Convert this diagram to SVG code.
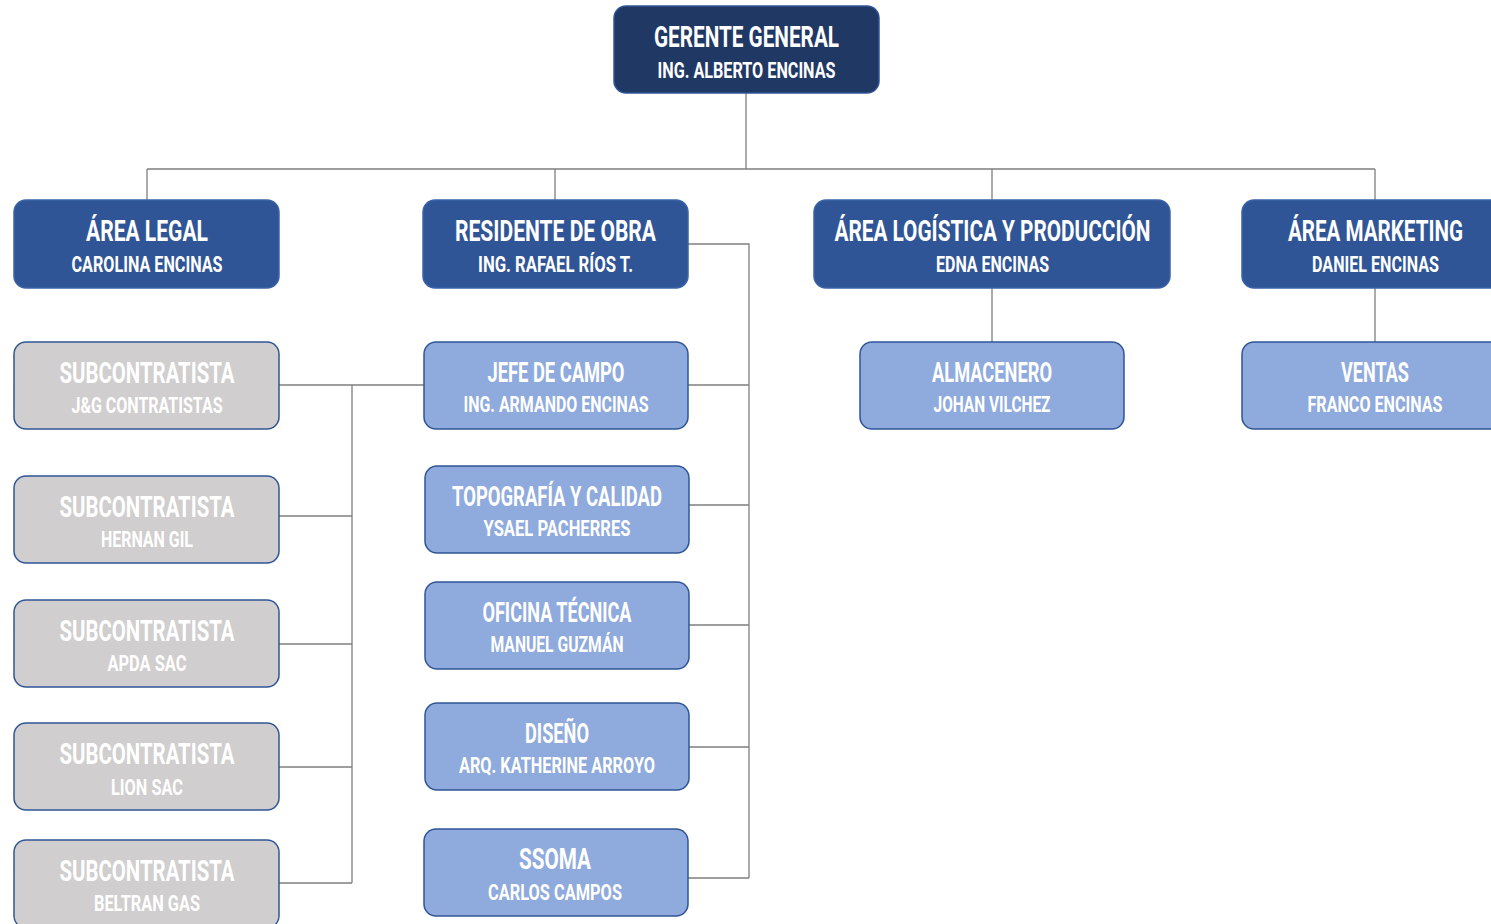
<svg xmlns="http://www.w3.org/2000/svg" width="1491" height="924" viewBox="0 0 1491 924">
  <style>
    text { font-family: Roboto, "Liberation Sans", sans-serif; font-weight: 700; fill: #ffffff; text-anchor: middle; }
    .t1 { font-size: 30px; }
    .t2 { font-size: 22px; }
    .t3 { font-size: 27px; }
    .top { fill: #203864; stroke: #2f5597; stroke-width: 1.5; }
    .area { fill: #2f5597; stroke: #3a64a8; stroke-width: 1.5; }
    .unit { fill: #8faadc; stroke: #2f5597; stroke-width: 1.5; }
    .sub { fill: #d0cece; stroke: #2f5597; stroke-width: 1.5; }
    .conn { fill: none; stroke: #7f7f7f; stroke-width: 1.3; }
  </style>

  <g id="connectors" class="conn">
    <path d="M746 93 V169 M147 169 H1375 M147 169 V200 M555 169 V200 M992 169 V200 M1375 169 V200"/>
    <path d="M992 288 V342 M1375 288 V342"/>
    <path d="M688 244 H749 V878 M688 385 H749 M689 505 H749 M689 625 H749 M689 747 H749 M688 878 H749"/>
    <path d="M279 385 H424 M352 385 V883 M279 516 H352 M279 644 H352 M279 767 H352 M279 883 H352"/>
  </g>

  <g id="gerente-general">
    <rect class="top" x="614" y="6" width="265" height="87" rx="12"/>
    <text class="t1" x="746.5" y="47" textLength="185" lengthAdjust="spacingAndGlyphs">GERENTE GENERAL</text>
    <text class="t2" x="746.5" y="78" textLength="178" lengthAdjust="spacingAndGlyphs">ING. ALBERTO ENCINAS</text>
  </g>

  <g id="area-legal">
    <rect class="area" x="14" y="200" width="265" height="88" rx="12"/>
    <text class="t1" x="147" y="241" textLength="122" lengthAdjust="spacingAndGlyphs">ÁREA LEGAL</text>
    <text class="t2" x="147" y="272" textLength="151" lengthAdjust="spacingAndGlyphs">CAROLINA ENCINAS</text>
  </g>

  <g id="residente-obra">
    <rect class="area" x="423" y="200" width="265" height="88" rx="12"/>
    <text class="t1" x="555.5" y="241" textLength="201" lengthAdjust="spacingAndGlyphs">RESIDENTE DE OBRA</text>
    <text class="t2" x="555.5" y="272" textLength="155" lengthAdjust="spacingAndGlyphs">ING. RAFAEL RÍOS T.</text>
  </g>

  <g id="area-logistica">
    <rect class="area" x="814" y="200" width="356" height="88" rx="12"/>
    <text class="t1" x="992.5" y="241" textLength="316" lengthAdjust="spacingAndGlyphs">ÁREA LOGÍSTICA Y PRODUCCIÓN</text>
    <text class="t2" x="992.5" y="272" textLength="113" lengthAdjust="spacingAndGlyphs">EDNA ENCINAS</text>
  </g>

  <g id="area-marketing">
    <rect class="area" x="1242" y="200" width="266" height="88" rx="12"/>
    <text class="t1" x="1375.5" y="241" textLength="175" lengthAdjust="spacingAndGlyphs">ÁREA MARKETING</text>
    <text class="t2" x="1375.5" y="272" textLength="127" lengthAdjust="spacingAndGlyphs">DANIEL ENCINAS</text>
  </g>

  <g id="sub-jg">
    <rect class="sub" x="14" y="342" width="265" height="87" rx="12"/>
    <text class="t1" x="147" y="383" textLength="175" lengthAdjust="spacingAndGlyphs">SUBCONTRATISTA</text>
    <text class="t2" x="147" y="413" textLength="151" lengthAdjust="spacingAndGlyphs">J&amp;G CONTRATISTAS</text>
  </g>

  <g id="sub-hernan">
    <rect class="sub" x="14" y="476" width="265" height="87" rx="12"/>
    <text class="t1" x="147" y="517" textLength="175" lengthAdjust="spacingAndGlyphs">SUBCONTRATISTA</text>
    <text class="t2" x="147" y="547" textLength="92" lengthAdjust="spacingAndGlyphs">HERNAN GIL</text>
  </g>

  <g id="sub-apda">
    <rect class="sub" x="14" y="600" width="265" height="87" rx="12"/>
    <text class="t1" x="147" y="641" textLength="175" lengthAdjust="spacingAndGlyphs">SUBCONTRATISTA</text>
    <text class="t2" x="147" y="671" textLength="79" lengthAdjust="spacingAndGlyphs">APDA SAC</text>
  </g>

  <g id="sub-lion">
    <rect class="sub" x="14" y="723" width="265" height="87" rx="12"/>
    <text class="t1" x="147" y="764" textLength="175" lengthAdjust="spacingAndGlyphs">SUBCONTRATISTA</text>
    <text class="t2" x="147" y="795" textLength="72" lengthAdjust="spacingAndGlyphs">LION SAC</text>
  </g>

  <g id="sub-beltran">
    <rect class="sub" x="14" y="840" width="265" height="88" rx="12"/>
    <text class="t1" x="147" y="881" textLength="175" lengthAdjust="spacingAndGlyphs">SUBCONTRATISTA</text>
    <text class="t2" x="147" y="911" textLength="106" lengthAdjust="spacingAndGlyphs">BELTRAN GAS</text>
  </g>

  <g id="jefe-campo">
    <rect class="unit" x="424" y="342" width="264" height="87" rx="12"/>
    <text class="t3" x="556" y="382" textLength="137" lengthAdjust="spacingAndGlyphs">JEFE DE CAMPO</text>
    <text class="t2" x="556" y="412" textLength="185" lengthAdjust="spacingAndGlyphs">ING. ARMANDO ENCINAS</text>
  </g>

  <g id="topografia">
    <rect class="unit" x="425" y="466" width="264" height="87" rx="12"/>
    <text class="t3" x="557" y="506" textLength="210" lengthAdjust="spacingAndGlyphs">TOPOGRAFÍA Y CALIDAD</text>
    <text class="t2" x="557" y="536" textLength="147" lengthAdjust="spacingAndGlyphs">YSAEL PACHERRES</text>
  </g>

  <g id="oficina-tecnica">
    <rect class="unit" x="425" y="582" width="264" height="87" rx="12"/>
    <text class="t3" x="557" y="622" textLength="149" lengthAdjust="spacingAndGlyphs">OFICINA TÉCNICA</text>
    <text class="t2" x="557" y="652" textLength="133" lengthAdjust="spacingAndGlyphs">MANUEL GUZMÁN</text>
  </g>

  <g id="diseno">
    <rect class="unit" x="425" y="703" width="264" height="87" rx="12"/>
    <text class="t3" x="557" y="743" textLength="64" lengthAdjust="spacingAndGlyphs">DISEÑO</text>
    <text class="t2" x="557" y="773" textLength="196" lengthAdjust="spacingAndGlyphs">ARQ. KATHERINE ARROYO</text>
  </g>

  <g id="ssoma">
    <rect class="unit" x="424" y="829" width="264" height="87" rx="12"/>
    <text class="t1" x="555" y="869" textLength="72" lengthAdjust="spacingAndGlyphs">SSOMA</text>
    <text class="t2" x="555" y="900" textLength="134" lengthAdjust="spacingAndGlyphs">CARLOS CAMPOS</text>
  </g>

  <g id="almacenero">
    <rect class="unit" x="860" y="342" width="264" height="87" rx="12"/>
    <text class="t3" x="992" y="382" textLength="120" lengthAdjust="spacingAndGlyphs">ALMACENERO</text>
    <text class="t2" x="992" y="412" textLength="117" lengthAdjust="spacingAndGlyphs">JOHAN VILCHEZ</text>
  </g>

  <g id="ventas">
    <rect class="unit" x="1242" y="342" width="266" height="87" rx="12"/>
    <text class="t3" x="1375" y="382" textLength="68" lengthAdjust="spacingAndGlyphs">VENTAS</text>
    <text class="t2" x="1375" y="412" textLength="135" lengthAdjust="spacingAndGlyphs">FRANCO ENCINAS</text>
  </g>
</svg>
